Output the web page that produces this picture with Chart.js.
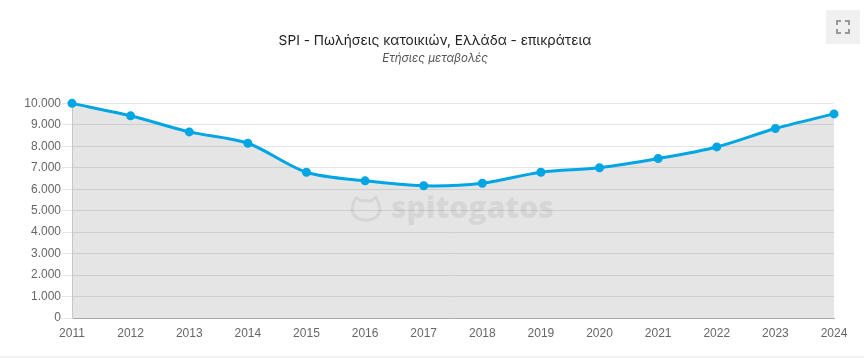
<!DOCTYPE html>
<html lang="el">
<head>
  <meta charset="UTF-8">
  <title>SPI - Πωλήσεις κατοικιών</title>
  <script src="https://cdn.jsdelivr.net/npm/chart.js"></script>
  <style>
    html, body { margin: 0; padding: 0; background: #fff; overflow: hidden; }
    #wrap { position: relative; width: 864px; height: 358px; }
    #salesChart { position: absolute; left: 0; top: 0; }
    #fullscreen { position: absolute; left: 826px; top: 10px; width: 34px; height: 34px; background: #f0f0f0; }
    #fullscreen svg { position: absolute; left: 10px; top: 10px; }
    #strip { position: absolute; left: 0; top: 356px; width: 864px; height: 2px; background: #f3f3f3; }
  </style>
</head>
<body>
  <div id="wrap">
    <canvas id="salesChart" width="864" height="356"></canvas>
    <div id="fullscreen">
      <svg width="14" height="14" viewBox="0 0 14 14" fill="none" stroke="#999" stroke-width="2">
        <path d="M1 5V1H5M9 1H13V5M13 9V13H9M5 13H1V9"/>
      </svg>
    </div>
    <div id="strip"></div>
  </div>

  <script>
    const years = ['2011', '2012', '2013', '2014', '2015', '2016', '2017', '2018', '2019', '2020', '2021', '2022', '2023', '2024'];
    const salesValues = [10000, 9420, 8670, 8140, 6790, 6390, 6160, 6280, 6790, 7000, 7430, 7970, 8830, 9510];
    const chartTitle = 'SPI - Πωλήσεις κατοικιών, Ελλάδα - επικράτεια';
    const chartSubtitle = 'Ετήσιες μεταβολές';
    const watermarkText = 'spitogatos';

    // Titles sit a little right of the default centre
    const shiftTitles = {
      id: 'shiftTitles',
      afterLayout(chart) {
        chart.boxes.forEach(b => {
          if (!b.axis && b.options.text !== undefined) b.left += 36;
        });
      }
    };

    // Faded logo behind the line
    const watermark = {
      id: 'watermark',
      beforeDatasetsDraw(chart) {
        const c = chart.ctx;
        c.save();
        c.strokeStyle = c.fillStyle = 'rgba(0,0,0,0.065)';
        c.lineWidth = 3;
        c.beginPath();
        c.moveTo(356, 197);
        c.lineTo(361, 201);
        c.quadraticCurveTo(366, 200, 371, 201);
        c.lineTo(376, 197);
        c.quadraticCurveTo(379, 203, 380, 209);
        c.quadraticCurveTo(379, 220, 366, 220);
        c.quadraticCurveTo(353, 220, 352, 209);
        c.quadraticCurveTo(353, 203, 356, 197);
        c.stroke();
        c.font = '800 30px "Open Sans", sans-serif';
        c.textBaseline = 'alphabetic';
        c.fillText(watermarkText, 391, 218);
        c.restore();
      }
    };

    new Chart(document.getElementById('salesChart').getContext('2d'), {
      type: 'line',
      data: {
        labels: years,
        datasets: [{
          data: salesValues,
          borderColor: '#00a5e3',
          backgroundColor: 'rgba(0,0,0,0.1)',
          borderWidth: 3,
          pointBackgroundColor: '#00a5e3',
          pointBorderColor: '#00a5e3',
          pointRadius: 3,
          tension: 0.3,
          fill: true,
          clip: false
        }]
      },
      options: {
        responsive: false,
        animation: false,
        layout: { padding: { right: 30, top: 33 } },
        plugins: {
          legend: { display: false },
          tooltip: { enabled: false },
          title: {
            display: true,
            text: chartTitle,
            color: '#222',
            font: { family: 'Inter', size: 13.7, weight: 'normal' },
            padding: { top: 0, bottom: 2 }
          },
          subtitle: {
            display: true,
            text: chartSubtitle,
            color: '#555',
            font: { family: 'Inter', size: 11.6, style: 'italic', weight: 'normal' },
            padding: { top: 0, bottom: 38 }
          }
        },
        scales: {
          x: {
            offset: false,
            afterFit(scale) { scale.height = 38; },
            grid: { display: false },
            border: { color: '#aaa' },
            ticks: { color: '#666', font: { family: '"Liberation Sans"', size: 12 }, maxRotation: 0, autoSkip: false, padding: 0 }
          },
          y: {
            min: 0,
            max: 10000,
            afterFit(scale) { scale.width = 72; },
            grid: { color: '#e6e6e6', tickLength: 10 },
            border: { color: '#ddd' },
            ticks: {
              stepSize: 1000,
              color: '#666',
              padding: 1,
              font: { family: '"Liberation Sans"', size: 12 },
              callback: v => v.toLocaleString('de-DE')
            }
          }
        }
      },
      plugins: [shiftTitles, watermark]
    });
  </script>
</body>
</html>
